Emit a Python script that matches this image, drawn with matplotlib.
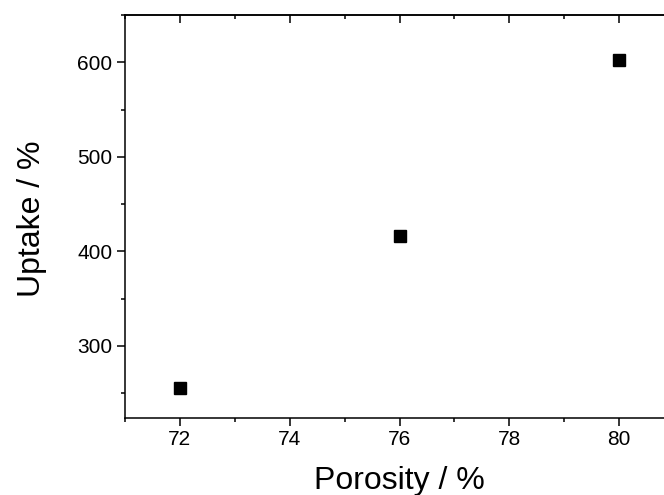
import matplotlib.pyplot as plt
from matplotlib.ticker import MultipleLocator

plt.rcParams['font.family'] = ['Liberation Sans', 'DejaVu Sans']

porosity = [72, 76, 80]
uptake = [255, 416, 602]

fig = plt.figure(figsize=(6.64, 4.95), dpi=100)
# axes runs past the right edge, as in the original crop
ax = fig.add_axes([0.1883, 0.1562, 0.8268, 0.8135])

ax.plot(porosity, uptake, 's', color='black', markersize=8.6, linestyle='none')

ax.set_xlim(71, 81)
ax.set_ylim(224, 650)
ax.xaxis.set_major_locator(MultipleLocator(2))
ax.xaxis.set_minor_locator(MultipleLocator(1))
ax.yaxis.set_major_locator(MultipleLocator(100))
ax.yaxis.set_minor_locator(MultipleLocator(50))

for side in ['left', 'bottom', 'top', 'right']:
    ax.spines[side].set_linewidth(1.1)

ax.tick_params(axis='both', which='both', width=1.1, labelsize=15, pad=3.6)
ax.tick_params(axis='both', which='major', length=5.5)
ax.tick_params(axis='both', which='minor', length=3.2)
ax.tick_params(axis='x', which='both', direction='out', bottom=True, top=False)
ax.tick_params(axis='y', which='both', direction='out', left=True, right=False)

# top axis with inward ticks, no labels
top = ax.secondary_xaxis('top')
top.xaxis.set_major_locator(MultipleLocator(2))
top.xaxis.set_minor_locator(MultipleLocator(1))
top.tick_params(axis='x', which='both', direction='in', width=1.1, labeltop=False)
top.tick_params(axis='x', which='major', length=5.5)
top.tick_params(axis='x', which='minor', length=3.2)
top.spines['top'].set_linewidth(1.1)

ax.set_xlabel('Porosity / %', fontsize=23, labelpad=12)
ax.set_ylabel('Uptake / %', fontsize=23)
ax.yaxis.set_label_coords(-0.142, 0.494)

fig.savefig('out.png', dpi=100)
